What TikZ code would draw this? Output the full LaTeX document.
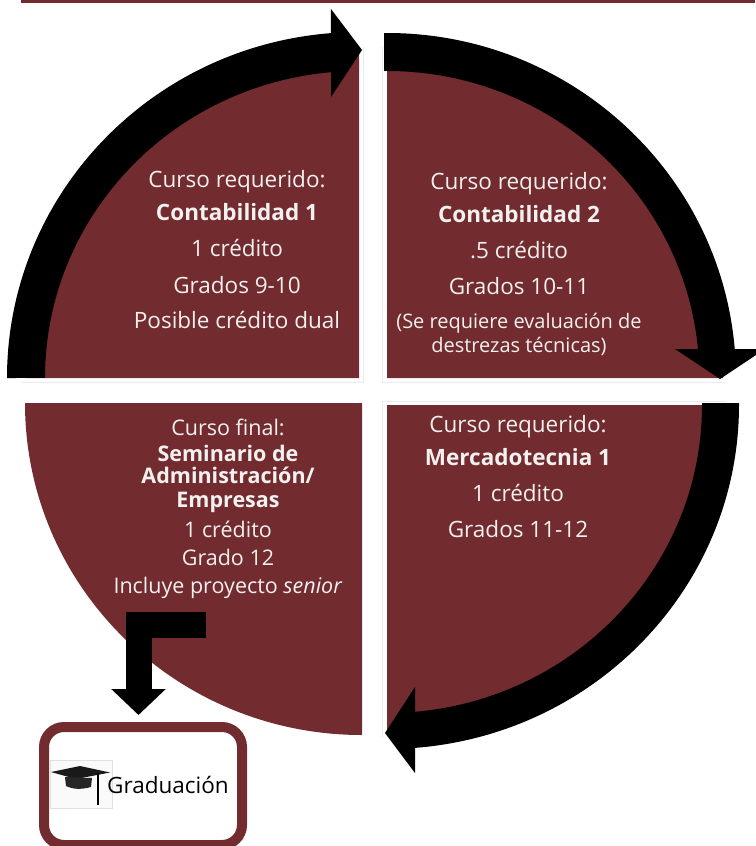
\documentclass[tikz,border=0pt]{standalone}
\usepackage{fontspec}
\setmainfont{Open Sans}
\usetikzlibrary{arrows.meta}
\definecolor{vino}{RGB}{114,43,46}
\definecolor{claro}{RGB}{243,240,240}
\tikzset{
  sector/.style={fill=vino},
  bloque/.style={fill=black},
  marco/.style={draw=black!8, line width=0.8pt},
  texto/.style={text=claro, inner sep=0pt, anchor=base, font=\fontsize{22.5}{27}\selectfont},
  chico/.style={texto, font=\fontsize{20}{24}\selectfont},
  medio/.style={texto, font=\fontsize{21.5}{26}\selectfont},
  codoflecha/.style={line width=26pt, -{Triangle[width=53pt,length=26pt]}},
}
\begin{document}
\begin{tikzpicture}[x=1pt,y=-1pt]
\useasboundingbox (0,0) rectangle (755,846);
% barra superior
\fill[vino] (21,0) rectangle (755,3);
% bordes tenues
\draw[marco] (363,47) -- (363,382) -- (22,382);
\draw[marco] (382,47) -- (382,382) -- (725,382);
\draw[marco] (382,737) -- (382,401) -- (725,401);
% sectores
\fill[sector] (359,378) -- (26,378) arc[start angle=180,end angle=270,x radius=333,y radius=331] -- cycle;
\fill[sector] (387,378) -- (387,45) arc[start angle=270,end angle=360,x radius=336,y radius=333] -- cycle;
\fill[sector] (387,405) -- (720,405) arc[start angle=0,end angle=90,x radius=333,y radius=330] -- cycle;
\fill[sector] (362,403) -- (362,735) arc[start angle=90,end angle=180,x radius=337,y radius=332] -- cycle;
% flechas curvas
\fill[bloque] (7,378) arc[start angle=180,end angle=265.4,x radius=352,y radius=346]
  -- (331,9) -- (362,50) -- (331,97) -- (331.1,72.2)
  arc[start angle=264.9,end angle=180,x radius=314,y radius=307] -- cycle;
\fill[bloque] (384,33) -- (387,33) arc[start angle=270,end angle=355.2,x radius=349,y radius=345]
  -- (765,349) -- (720,379) -- (675,349) -- (698,349)
  arc[start angle=354.58,end angle=270,x radius=312.4,y radius=307] -- (384,71) -- cycle;
\fill[bloque] (739,403) -- (739,405) arc[start angle=0,end angle=85.4,x radius=352,y radius=344]
  -- (415,773) -- (385,733) -- (415,687) -- (415,711.8)
  arc[start angle=84.9,end angle=0,x radius=315,y radius=308] -- (702,403) -- cycle;
% textos
\node[texto] (tl1) at (237,187) {Curso requerido:};
\node[texto] (tl2) at (237,220) {\textbf{Contabilidad 1}};
\node[texto] (tl3) at (237,256) {1 crédito};
\node[texto] (tl4) at (237,293) {Grados 9-10};
\node[texto] (tl5) at (237,328) {Posible crédito dual};
\node[texto] (tr1) at (519,189) {Curso requerido:};
\node[texto] (tr2) at (519,222) {\textbf{Contabilidad 2}};
\node[texto] (tr3) at (519,258) {.5 crédito};
\node[texto] (tr4) at (519,294) {Grados 10-11};
\node[chico] (tr5) at (519,328) {(Se requiere evaluación de};
\node[chico] (tr6) at (519,352) {destrezas técnicas)};
\node[texto] (br1) at (518,432) {Curso requerido:};
\node[texto] (br2) at (518,465) {\textbf{Mercadotecnia 1}};
\node[texto] (br3) at (518,501) {1 crédito};
\node[texto] (br4) at (518,537) {Grados 11-12};
\node[medio] (bl1) at (228,435) {Curso final:};
\node[medio] (bl2) at (228,461) {\textbf{Seminario de}};
\node[medio] (bl3) at (228,483) {\textbf{Administración/}};
\node[medio] (bl4) at (228,507) {\textbf{Empresas}};
\node[medio] (bl5) at (228,537) {1 crédito};
\node[medio] (bl6) at (228,565) {Grado 12};
\node[medio] (bl7) at (228,593) {Incluye proyecto \textit{senior}};
% graduacion
\node[draw=vino, line width=10pt, rounded corners=20pt, minimum width=198pt, minimum height=118pt] (grad) at (143,786) {};
\coordinate (codo) at (206,624.5);
\coordinate (meta) at (138.5,715);
\draw[codoflecha] (codo) -| (meta);
\draw[black!12, fill=black!2] (50,760) rectangle (112,808);
\fill[black!90] (51,772) -- (80,766) -- (110,772.5) -- (76,779) -- cycle;
\fill[black!85] (65,777) -- (92,778) -- (91,787) .. controls (80,790) and (72,789) .. (66,786) -- cycle;
\draw[line width=2.5pt] (98,773) -- (98,805);
\node[texto, text=black, anchor=base west] (gradtexto) at (107,793) {Graduación};
\end{tikzpicture}
\end{document}
